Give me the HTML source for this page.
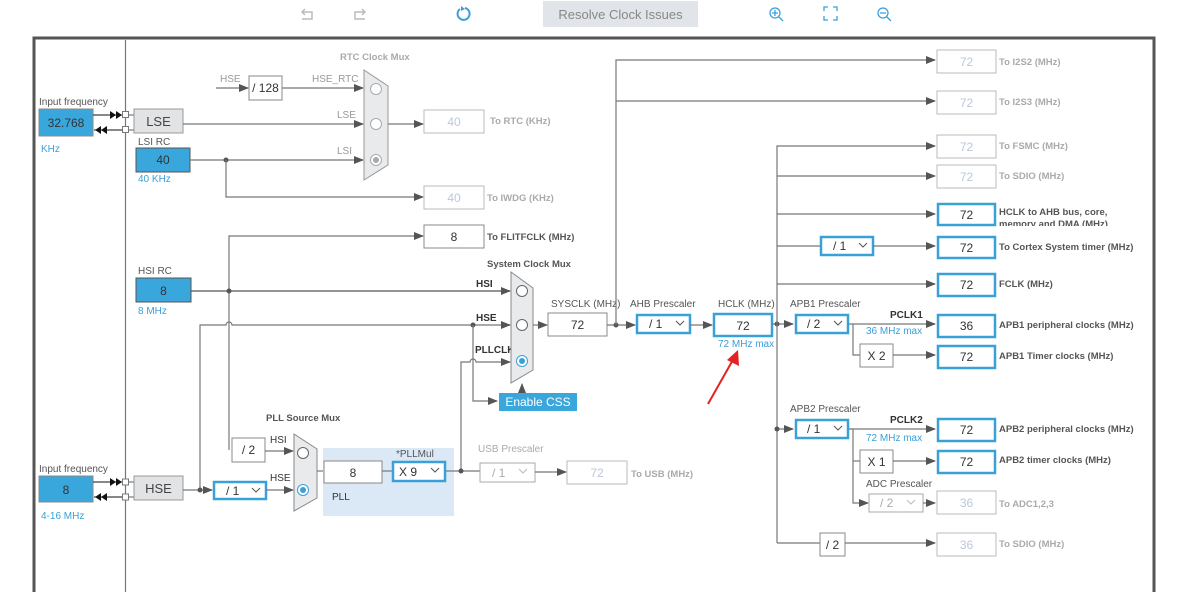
<!DOCTYPE html>
<html><head><meta charset="utf-8"><style>
html,body{margin:0;padding:0;background:#fff;width:1200px;height:592px;overflow:hidden}
svg{display:block}
text{font-family:"Liberation Sans",sans-serif}
.l{stroke:#777;stroke-width:1.2;fill:none}
.lb{font-size:9.5px;fill:#555;font-weight:bold}
.lg{font-size:9.5px;fill:#aaa;font-weight:bold}
.bl{font-size:10px;fill:#3aa0d8}
.box{fill:#fff;stroke:#888;stroke-width:1}
.lbox{fill:#fff;stroke:#bbb;stroke-width:1}
.sel{fill:#fff;stroke:#3aa0d8;stroke-width:2.5}
.v{font-size:12px;fill:#333;text-anchor:middle}
.vl{font-size:12px;fill:#b8c8dc;text-anchor:middle}
</style></head><body>
<svg width="1200" height="592" viewBox="0 0 1200 592" xmlns="http://www.w3.org/2000/svg">
<defs>
<marker id="a" markerWidth="10" markerHeight="8" refX="9" refY="4" orient="auto" markerUnits="userSpaceOnUse"><path d="M0,0 L10,4 L0,8z" fill="#555"/></marker>
</defs>
<!-- toolbar -->
<g stroke="#bbb" fill="none" stroke-width="1.5">
<path d="M302,19 h10 v-7 h-10 M305,9 l-3,3 3,3"/>
<path d="M365,19 h-10 v-7 h10 M362,9 l3,3 -3,3"/>
</g>
<path d="M460,9 a6,6 0 1 0 5,-1" stroke="#3aa0d8" stroke-width="2" fill="none"/><path d="M461,6 l4,3 -4,2z" fill="#3aa0d8"/>
<rect x="543" y="1" width="155" height="26" fill="#e1e4e8"/>
<text x="620.5" y="19" font-size="13" fill="#888" text-anchor="middle">Resolve Clock Issues</text>
<g stroke="#3aa0d8" fill="none" stroke-width="1.3">
<circle cx="775" cy="13" r="5"/><path d="M779,17 l4,4 M772,13h6M775,10v6"/>
<path d="M824,11v-4h4 M833,7h4v4 M837,16v4h-4 M828,20h-4v-4"/>
<circle cx="883" cy="13" r="5"/><path d="M887,17 l4,4 M880,13h6"/>
</g>
<!-- frame -->
<path d="M34,592 V38 H1154 V592" stroke="#555" stroke-width="3" fill="none"/>
<line x1="125.5" y1="40" x2="125.5" y2="592" stroke="#777" stroke-width="1.2"/>

<!-- LSE input -->
<text x="39" y="105" font-size="10" fill="#555">Input frequency</text>
<rect x="39" y="109" width="54" height="27" fill="#3aa7dc" stroke="#888"/>
<text x="66" y="127" class="v" fill="#333">32.768</text>
<text x="41" y="152" class="bl">KHz</text>
<line x1="93" y1="115" x2="122" y2="115" stroke="#111"/>
<path d="M110,111 l6,4 -6,4z M116,111 l6,4 -6,4z" fill="#111"/>
<line x1="122" y1="130" x2="94" y2="130" stroke="#111"/>
<path d="M101,126 l-6,4 6,4z M107,126 l-6,4 6,4z" fill="#111"/>
<rect x="122.5" y="111.5" width="6" height="6" fill="#fff" stroke="#777"/>
<rect x="122.5" y="126.5" width="6" height="6" fill="#fff" stroke="#777"/>
<line x1="128" y1="115" x2="134" y2="115" class="l"/><line x1="128" y1="130" x2="134" y2="130" class="l"/>
<rect x="134" y="109" width="49" height="24" fill="#e1e3e5" stroke="#999"/>
<text x="158.5" y="126" font-size="13" fill="#444" text-anchor="middle">LSE</text>
<!-- LSI -->
<text x="138" y="145" font-size="10" fill="#555">LSI RC</text>
<rect x="136" y="148" width="54" height="24" fill="#3aa7dc" stroke="#555"/>
<text x="163" y="164" class="v">40</text>
<text x="138" y="182" class="bl">40 KHz</text>

<!-- RTC mux -->
<text x="340" y="60" class="lg">RTC Clock Mux</text>
<text x="220" y="82" font-size="10" fill="#999">HSE</text>
<line x1="216" y1="88" x2="248" y2="88" class="l" marker-end="url(#a)"/>
<rect x="249" y="76" width="33" height="24" class="box"/>
<text x="265.5" y="92" class="v">/ 128</text>
<text x="312" y="82" font-size="10" fill="#999">HSE_RTC</text>
<line x1="282" y1="88" x2="363" y2="88" class="l" marker-end="url(#a)"/>
<text x="337" y="118" font-size="10" fill="#999">LSE</text>
<line x1="183" y1="124" x2="363" y2="124" class="l" marker-end="url(#a)"/>
<text x="337" y="154" font-size="10" fill="#999">LSI</text>
<line x1="190" y1="160" x2="363" y2="160" class="l" marker-end="url(#a)"/>
<circle cx="226" cy="160" r="2.5" fill="#555"/>
<path d="M226,160 V197 H423" class="l" marker-end="url(#a)"/>
<path d="M364,70 L388,86 L388,165 L364,180Z" fill="#e8eaec" stroke="#999"/>
<circle cx="376" cy="89" r="5.5" fill="#fff" stroke="#aaa"/>
<circle cx="376" cy="124" r="5.5" fill="#fff" stroke="#aaa"/>
<circle cx="376" cy="160" r="5.5" fill="#fff" stroke="#aaa"/><circle cx="376" cy="160" r="3" fill="#aaa"/>
<line x1="388" y1="124" x2="423" y2="124" class="l" marker-end="url(#a)"/>
<rect x="424" y="110" width="60" height="23" class="lbox"/><text x="454" y="126" class="vl">40</text>
<text x="490" y="124" class="lg">To RTC (KHz)</text>
<rect x="424" y="186" width="60" height="23" class="lbox"/><text x="454" y="202" class="vl">40</text>
<text x="487" y="201" class="lg">To IWDG (KHz)</text>
<!-- FLITF -->
<path d="M229,450 V236 H423" class="l" marker-end="url(#a)"/>
<rect x="424" y="225" width="60" height="23" class="box"/><text x="454" y="241" class="v">8</text>
<text x="487" y="240" class="lb">To FLITFCLK (MHz)</text>

<!-- HSI -->
<text x="138" y="274" font-size="10" fill="#555">HSI RC</text>
<rect x="136" y="278" width="55" height="24" fill="#3aa7dc" stroke="#555"/>
<text x="163.5" y="295" class="v">8</text>
<text x="138" y="314" class="bl">8 MHz</text>
<line x1="191" y1="291" x2="510" y2="291" stroke="#555" stroke-width="1.2" marker-end="url(#a)"/>
<circle cx="229" cy="291" r="2.5" fill="#555"/>
<path d="M200,490 V325 H226 a3,3 0 0 1 6,0 H510" class="l" marker-end="url(#a)"/>
<circle cx="473" cy="325" r="2.5" fill="#555"/>
<path d="M473,325 V401 H497" class="l" marker-end="url(#a)"/>
<text x="476" y="321" font-size="10" fill="#333" font-weight="bold">HSE</text>
<text x="476" y="287" font-size="10" fill="#333" font-weight="bold">HSI</text>
<text x="475" y="353" font-size="10" fill="#333" font-weight="bold">PLLCLK</text>
<path d="M461,470 V362 H470 a3,3 0 0 1 6,0 H510" class="l" marker-end="url(#a)"/>
<rect x="499" y="393" width="78" height="18" fill="#3aa7dc"/>
<text x="538" y="406" font-size="12" fill="#fff" text-anchor="middle">Enable CSS</text>
<line x1="522" y1="393" x2="522" y2="384" class="l" marker-end="url(#a)"/>
<text x="487" y="267" class="lb">System Clock Mux</text>
<path d="M511,272 L533,288 L533,370 L511,383Z" fill="#e8eaec" stroke="#888"/>
<circle cx="522" cy="291" r="5.5" fill="#fff" stroke="#666"/>
<circle cx="522" cy="325" r="5.5" fill="#fff" stroke="#666"/>
<circle cx="522" cy="361" r="5.5" fill="#fff" stroke="#3aa0d8"/><circle cx="522" cy="361" r="3" fill="#3aa0d8"/>
<line x1="533" y1="325" x2="547" y2="325" class="l" marker-end="url(#a)"/>
<text x="551" y="307" font-size="10" fill="#555">SYSCLK (MHz)</text>
<rect x="548" y="313" width="59" height="23" class="box"/><text x="577.5" y="329" class="v">72</text>
<line x1="607" y1="325" x2="635" y2="325" class="l" marker-end="url(#a)"/>
<circle cx="616" cy="325" r="2.5" fill="#555"/>
<path d="M616,325 V60 H935" class="l" marker-end="url(#a)"/>
<line x1="616" y1="101" x2="935" y2="101" class="l" marker-end="url(#a)"/>

<!-- AHB -->
<text x="630" y="307" font-size="10" fill="#555">AHB Prescaler</text>
<rect x="637" y="315" width="53" height="18" class="sel"/>
<text x="649" y="328" font-size="12" fill="#333">/ 1</text><path d="M676,321 l4,4 4,-4" stroke="#555" fill="none"/>
<line x1="690" y1="325" x2="712" y2="325" class="l" marker-end="url(#a)"/>
<text x="718" y="307" font-size="10" fill="#555">HCLK (MHz)</text>
<rect x="714" y="314" width="58" height="22" class="sel"/><text x="743" y="330" class="v">72</text>
<text x="718" y="347" class="bl" font-size="9">72 MHz max</text>
<line x1="772" y1="324" x2="793" y2="324" class="l" marker-end="url(#a)"/>
<circle cx="777" cy="324" r="2.5" fill="#555"/>
<path d="M777,543 V146 H935" class="l" marker-end="url(#a)"/>
<line x1="777" y1="176" x2="935" y2="176" class="l" marker-end="url(#a)"/>
<line x1="777" y1="214" x2="935" y2="214" class="l" marker-end="url(#a)"/>
<line x1="777" y1="246" x2="820" y2="246" class="l"/>
<rect x="821" y="237" width="52" height="18" class="sel"/>
<text x="833" y="250" font-size="12" fill="#333">/ 1</text><path d="M859,243 l4,4 4,-4" stroke="#555" fill="none"/>
<line x1="873" y1="246" x2="935" y2="246" class="l" marker-end="url(#a)"/>
<line x1="777" y1="284" x2="935" y2="284" class="l" marker-end="url(#a)"/>
<line x1="777" y1="429" x2="793" y2="429" class="l" marker-end="url(#a)"/>
<circle cx="777" cy="429" r="2.5" fill="#555"/>
<line x1="777" y1="543" x2="820" y2="543" class="l"/>
<rect x="820" y="533" width="25" height="23" class="box"/><text x="832.5" y="549" class="v">/ 2</text>
<line x1="845" y1="543" x2="935" y2="543" class="l" marker-end="url(#a)"/>

<!-- APB1 -->
<text x="790" y="307" font-size="10" fill="#555">APB1 Prescaler</text>
<rect x="796" y="315" width="52" height="18" class="sel"/>
<text x="807" y="328" font-size="12" fill="#333">/ 2</text><path d="M834,321 l4,4 4,-4" stroke="#555" fill="none"/>
<line x1="849" y1="324" x2="935" y2="324" class="l" marker-end="url(#a)"/>
<text x="890" y="318" font-size="10" fill="#333" font-weight="bold">PCLK1</text>
<text x="866" y="334" class="bl" font-size="9">36 MHz max</text>
<path d="M853,324 V355 H860" class="l"/>
<rect x="860" y="344" width="33" height="23" class="box"/><text x="876.5" y="360" class="v">X 2</text>
<line x1="893" y1="355" x2="935" y2="355" class="l" marker-end="url(#a)"/>
<!-- APB2 -->
<text x="790" y="412" font-size="10" fill="#555">APB2 Prescaler</text>
<rect x="796" y="420" width="52" height="18" class="sel"/>
<text x="807" y="433" font-size="12" fill="#333">/ 1</text><path d="M834,426 l4,4 4,-4" stroke="#555" fill="none"/>
<line x1="849" y1="429" x2="935" y2="429" class="l" marker-end="url(#a)"/>
<text x="890" y="423" font-size="10" fill="#333" font-weight="bold">PCLK2</text>
<text x="866" y="441" class="bl" font-size="9">72 MHz max</text>
<path d="M853,429 V503 H868" class="l" marker-end="url(#a)"/>
<line x1="853" y1="461" x2="860" y2="461" class="l"/>
<rect x="860" y="450" width="33" height="23" class="box"/><text x="876.5" y="466" class="v">X 1</text>
<line x1="893" y1="461" x2="935" y2="461" class="l" marker-end="url(#a)"/>
<text x="866" y="487" font-size="10" fill="#555">ADC Prescaler</text>
<rect x="869" y="494" width="54" height="18" fill="#fff" stroke="#aaa"/>
<text x="880" y="507" font-size="12" fill="#aaa">/ 2</text><path d="M907,500 l4,4 4,-4" stroke="#bbb" fill="none"/>
<line x1="923" y1="503" x2="935" y2="503" class="l" marker-end="url(#a)"/>

<!-- right boxes -->
<g>
<rect x="937" y="50" width="59" height="23" class="lbox"/><text x="966.5" y="66" class="vl">72</text>
<rect x="937" y="91" width="59" height="23" class="lbox"/><text x="966.5" y="107" class="vl">72</text>
<rect x="937" y="135" width="59" height="23" class="lbox"/><text x="966.5" y="151" class="vl">72</text>
<rect x="937" y="165" width="59" height="23" class="lbox"/><text x="966.5" y="181" class="vl">72</text>
<rect x="938" y="204" width="57" height="21" class="sel"/><text x="966.5" y="219" class="v">72</text>
<rect x="938" y="237" width="57" height="21" class="sel"/><text x="966.5" y="252" class="v">72</text>
<rect x="938" y="274" width="57" height="22" class="sel"/><text x="966.5" y="289" class="v">72</text>
<rect x="938" y="315" width="57" height="22" class="sel"/><text x="966.5" y="330" class="v">36</text>
<rect x="938" y="346" width="57" height="22" class="sel"/><text x="966.5" y="361" class="v">72</text>
<rect x="938" y="419" width="57" height="22" class="sel"/><text x="966.5" y="434" class="v">72</text>
<rect x="938" y="451" width="57" height="22" class="sel"/><text x="966.5" y="466" class="v">72</text>
<rect x="937" y="491" width="59" height="23" class="lbox"/><text x="966.5" y="507" class="vl">36</text>
<rect x="937" y="533" width="59" height="23" class="lbox"/><text x="966.5" y="549" class="vl">36</text>
</g>
<text x="999" y="65" class="lg">To I2S2 (MHz)</text>
<text x="999" y="105" class="lg">To I2S3 (MHz)</text>
<text x="999" y="149" class="lg">To FSMC (MHz)</text>
<text x="999" y="179" class="lg">To SDIO (MHz)</text>
<text x="999" y="215" class="lb" fill="#333">HCLK to AHB bus, core,</text>
<svg x="999" y="218" width="160" height="8" overflow="hidden"><text x="0" y="9" class="lb">memory and DMA (MHz)</text></svg>
<text x="999" y="250" class="lb">To Cortex System timer (MHz)</text>
<text x="999" y="287" class="lb">FCLK (MHz)</text>
<text x="999" y="328" class="lb">APB1 peripheral clocks (MHz)</text>
<text x="999" y="359" class="lb">APB1 Timer clocks (MHz)</text>
<text x="999" y="432" class="lb">APB2 peripheral clocks (MHz)</text>
<text x="999" y="463" class="lb">APB2 timer clocks (MHz)</text>
<text x="999" y="507" class="lg">To ADC1,2,3</text>
<text x="999" y="547" class="lg">To SDIO (MHz)</text>

<!-- red arrow -->
<line x1="708" y1="404" x2="734" y2="358" stroke="#e52222" stroke-width="2"/>
<path d="M738,350 L739,366 L727,360Z" fill="#e52222"/>

<!-- HSE input -->
<text x="39" y="472" font-size="10" fill="#555">Input frequency</text>
<rect x="39" y="476" width="54" height="26" fill="#3aa7dc" stroke="#888"/>
<text x="66" y="494" class="v">8</text>
<text x="41" y="519" class="bl">4-16 MHz</text>
<line x1="93" y1="482" x2="122" y2="482" stroke="#111"/>
<path d="M110,478 l6,4 -6,4z M116,478 l6,4 -6,4z" fill="#111"/>
<line x1="122" y1="497" x2="94" y2="497" stroke="#111"/>
<path d="M101,493 l-6,4 6,4z M107,493 l-6,4 6,4z" fill="#111"/>
<rect x="122.5" y="479" width="6" height="6" fill="#fff" stroke="#777"/>
<rect x="122.5" y="494" width="6" height="6" fill="#fff" stroke="#777"/>
<line x1="128" y1="482" x2="134" y2="482" class="l"/><line x1="128" y1="497" x2="134" y2="497" class="l"/>
<rect x="134" y="476" width="49" height="24" fill="#e1e3e5" stroke="#999"/>
<text x="158.5" y="493" font-size="13" fill="#444" text-anchor="middle">HSE</text>
<line x1="183" y1="490" x2="212" y2="490" class="l" marker-end="url(#a)"/>
<circle cx="200" cy="490" r="2.5" fill="#555"/>
<rect x="214" y="482" width="52" height="17" class="sel"/>
<text x="226" y="495" font-size="12" fill="#333">/ 1</text><path d="M252,488 l4,4 4,-4" stroke="#555" fill="none"/>
<line x1="266" y1="490" x2="293" y2="490" class="l" marker-end="url(#a)"/>
<!-- PLL src mux -->
<text x="266" y="421" class="lb">PLL Source Mux</text>
<rect x="232" y="438" width="33" height="24" class="box"/><text x="248.5" y="454" class="v">/ 2</text>
<text x="270" y="443" font-size="10" fill="#333">HSI</text>
<line x1="265" y1="451" x2="293" y2="451" class="l" marker-end="url(#a)"/>
<text x="270" y="481" font-size="10" fill="#333">HSE</text>
<path d="M294,434 L317,449 L317,498 L294,511Z" fill="#e8eaec" stroke="#888"/>
<circle cx="303" cy="453" r="5.5" fill="#fff" stroke="#666"/>
<circle cx="303" cy="490" r="5.5" fill="#fff" stroke="#3aa0d8"/><circle cx="303" cy="490" r="3" fill="#3aa0d8"/>
<!-- PLL -->
<rect x="323" y="448" width="131" height="68" fill="#dbe8f5"/>
<line x1="317" y1="471" x2="323" y2="471" class="l"/>
<text x="396" y="457" font-size="10" fill="#555">*PLLMul</text>
<rect x="324" y="461" width="58" height="22" class="box"/><text x="353" y="477" class="v">8</text>
<line x1="382" y1="471" x2="392" y2="471" class="l"/>
<rect x="393" y="462" width="52" height="19" class="sel"/>
<text x="399" y="476" font-size="12" fill="#333">X 9</text><path d="M431,468 l4,4 4,-4" stroke="#555" fill="none"/>
<text x="332" y="500" font-size="10" fill="#333">PLL</text>
<line x1="446" y1="471" x2="480" y2="471" class="l"/>
<circle cx="461" cy="471" r="2.5" fill="#555"/>
<text x="478" y="452" font-size="10" fill="#aaa">USB Prescaler</text>
<rect x="480" y="463" width="55" height="19" fill="#fff" stroke="#aaa"/>
<text x="492" y="477" font-size="12" fill="#aaa">/ 1</text><path d="M519,469 l4,4 4,-4" stroke="#bbb" fill="none"/>
<line x1="535" y1="472" x2="566" y2="472" class="l" marker-end="url(#a)"/>
<rect x="567" y="461" width="60" height="23" class="lbox"/><text x="597" y="477" class="vl">72</text>
<text x="631" y="477" class="lg">To USB (MHz)</text>
</svg>
</body></html>
